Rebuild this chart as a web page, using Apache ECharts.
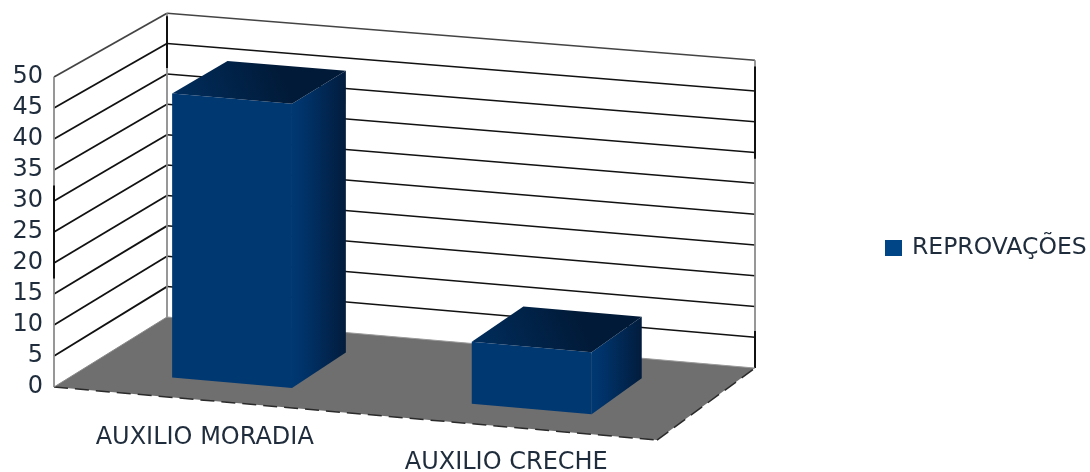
<!DOCTYPE html>
<html><head><meta charset="utf-8">
<style>html,body{margin:0;padding:0;background:#fff}#c{width:1090px;height:472px;filter:blur(0.55px)}</style>
<script src="https://cdn.jsdelivr.net/npm/echarts@6/dist/echarts.min.js"></script>
</head><body><div id="c"></div>
<script>
const categories = ['AUXILIO MORADIA', 'AUXILIO CRECHE'];
const seriesName = 'REPROVAÇÕES';
const reprovacoes = [46, 10];
const wallTicks = [5, 10, 15, 20, 25, 30, 35, 40, 45, 50];
// darker stretches of the wall edges: [depth, side (0 left / 1 right), from value, to value]
const darkEdges = [[0, 0, 17.5, 32.5], [1, 0, 41, 49.5], [1, 1, 34, 49], [1, 1, 0, 6]];

const chart = echarts.init(document.getElementById('c'));
const textColor = '#1f2c3c';
const font = '"DejaVu Sans"';

// oblique projection of the flat cartesian position into the 3D-looking box
function projector(params) {
  const cs = params.coordSys;
  const baseY = cs.y + cs.height;
  return function (x, y, d) {
    const t = (x - cs.x) / cs.width;
    const floorY = baseY + 0.088 * (x - cs.x);
    const h = (baseY - y) * (1 - d * (0.02 - 0.013 * t));
    return [x + d * (113 - 15 * t), floorY - d * (70 + 2 * t) - h];
  };
}
function poly(points, style) {
  return { type: 'polygon', shape: { points }, style };
}
function seg(a, b, stroke, lineWidth, lineDash) {
  return { type: 'line', shape: { x1: a[0], y1: a[1], x2: b[0], y2: b[1] },
    style: { stroke, lineWidth, lineDash: lineDash || null, fill: null } };
}
const LG = (x, y, x2, y2, stops) => new echarts.graphic.LinearGradient(x, y, x2, y2, stops);

function renderFloor(params, api) {
  const cs = params.coordSys, P = projector(params);
  const y0 = api.coord([0, 0])[1], L = cs.x, R = cs.x + cs.width;
  const a = P(L, y0, 0), b = P(R, y0, 0), c = P(R, y0, 1), e = P(L, y0, 1);
  return { type: 'group', children: [
    poly([a, b, c, e], { fill: '#6f6f6f' }),
    seg(a, b, '#2a2a2a', 1.5, [14, 7]),
    seg(b, c, '#2a2a2a', 1.5, [14, 7]),
    seg(a, e, '#8a8a8a', 1),
    seg(e, c, '#9a9a9a', 1)
  ] };
}
function renderWall(params, api) {
  const cs = params.coordSys, P = projector(params);
  const y = api.coord([0, api.value(1)])[1], L = cs.x, R = cs.x + cs.width;
  const top = api.value(1) === 50;
  const col = top ? '#444' : '#111';
  return { type: 'group', children: [
    seg(P(L, y, 0), P(L, y, 1), col, 1.8),
    seg(P(L, y, 1), P(R, y, 1), col, 1.5)
  ] };
}
function renderEdges(params, api) {
  const cs = params.coordSys, P = projector(params);
  const y = api.coord([0, 50])[1], y0 = api.coord([0, 0])[1], L = cs.x, R = cs.x + cs.width;
  const kids = [
    seg(P(L, y, 0), P(L, y0, 0), '#8c8c8c', 1.8),
    seg(P(L, y, 1), P(L, y0, 1), '#8c8c8c', 1.8),
    seg(P(R, y, 1), P(R, y0, 1), '#8c8c8c', 1.8)
  ];
  darkEdges.forEach(function (e) {
    const x = e[1] ? R : L;
    const a = api.coord([0, e[2]])[1], b = api.coord([0, e[3]])[1];
    kids.push(seg(P(x, a, e[0]), P(x, b, e[0]), '#111', 2));
  });
  return { type: 'group', children: kids };
}
function renderBar(params, api) {
  const P = projector(params);
  const c = api.coord([api.value(0), api.value(1)]);
  const y0 = api.coord([api.value(0), 0])[1];
  const hw = api.size([1, 0])[0] * 0.2;
  const d1 = 0.25, d2 = 0.75;
  const l = c[0] - hw, r = c[0] + hw;
  const fbl = P(l, y0, d1), fbr = P(r, y0, d1), ftl = P(l, c[1], d1), ftr = P(r, c[1], d1);
  const bbr = P(r, y0, d2), btr = P(r, c[1], d2), btl = P(l, c[1], d2);
  return { type: 'group', children: [
    poly([fbl, fbr, ftr, ftl], { fill: '#003872' }),
    poly([fbr, bbr, btr, ftr], { fill: LG(0, 0, 1, 0, [{ offset: 0, color: '#003872' }, { offset: 0.25, color: '#003268' }, { offset: 1, color: '#021c3c' }]) }),
    poly([ftl, ftr, btr, btl], { fill: LG(0, 1, 0.6, 0, [{ offset: 0, color: '#002e5e' }, { offset: 1, color: '#011a38' }]) })
  ] };
}

chart.setOption({
  animation: false,
  backgroundColor: '#fff',
  grid: { left: 54, right: 433, top: 77, bottom: 85, containLabel: false, outerBoundsMode: 'none' },
  legend: {
    data: [seriesName], left: 880, top: 231, itemWidth: 17, itemHeight: 16, icon: 'rect', itemGap: 8,
    textStyle: { color: textColor, fontSize: 23.5, fontFamily: font, padding: [0, 0, 0, 5] }
  },
  xAxis: {
    type: 'category', data: categories,
    axisLine: { show: false }, axisTick: { show: false }, splitLine: { show: false },
    axisLabel: {
      interval: 0, margin: 39, color: textColor, fontFamily: font, fontSize: 24,
      formatter: function (v, i) { return i === 0 ? '{a|' + v + '}' : '{b|' + v + '}'; },
      rich: {
        a: { color: textColor, fontFamily: font, fontSize: 24 },
        b: { color: textColor, fontFamily: font, fontSize: 24, padding: [25, 0, 0, 0] }
      }
    }
  },
  yAxis: {
    type: 'value', min: 0, max: 50, interval: 5,
    axisLine: { show: false }, axisTick: { show: false }, splitLine: { show: false },
    axisLabel: { margin: 11, color: textColor, fontFamily: font, fontSize: 24 }
  },
  series: [
    { type: 'custom', name: 'walls', silent: true, z: 1, clip: false, renderItem: renderWall,
      data: wallTicks.map(function (v) { return [0, v]; }) },
    { type: 'custom', name: 'edges', silent: true, z: 1, clip: false, renderItem: renderEdges, data: [[0, 0]] },
    { type: 'custom', name: 'floor', silent: true, z: 2, clip: false, renderItem: renderFloor, data: [[0, 0]] },
    { type: 'custom', name: seriesName, z: 3, clip: false, renderItem: renderBar,
      itemStyle: { color: '#004586' },
      data: reprovacoes.map(function (v, i) { return [i, v]; }) }
  ]
});
</script></body></html>
